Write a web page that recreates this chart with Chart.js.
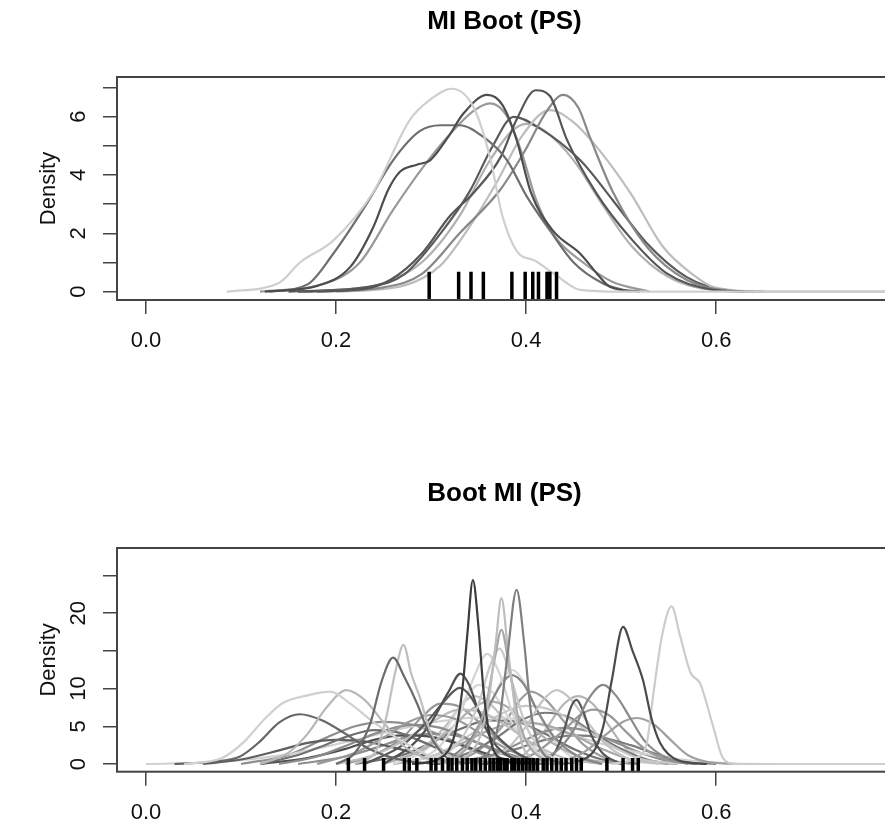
<!DOCTYPE html>
<html>
<head>
<meta charset="utf-8">
<script src="https://cdn.jsdelivr.net/npm/chart.js@4.4.1/dist/chart.umd.min.js"></script>
<style>
  html, body { margin: 0; padding: 0; background: #fff; overflow: hidden; width: 885px; height: 829px; }
  canvas { position: absolute; left: 0; }
  #miBoot { top: 0; }
  #bootMi { top: 415px; }
</style>
</head>
<body>
<canvas id="miBoot" width="896" height="415"></canvas>
<canvas id="bootMi" width="896" height="414"></canvas>
<script>
// ticks
const xTickValues = [0.0, 0.2, 0.4, 0.6];
const miBootYTicks = [0, 1, 2, 3, 4, 5, 6, 7];
const miBootYLabels = [0, 2, 4, 6];
const bootMiYTicks = [0, 5, 10, 15, 20, 25];
const bootMiYLabels = [0, 5, 10, 20];

// MI Boot (PS): one density per imputation as [x, density]
const miBoot1 = [[0.085,0],[0.14,0.3],[0.162,1.0],[0.197,1.75],[0.239,3.4],[0.278,5.9],[0.30,6.6],[0.322,6.95],[0.345,6.3],[0.362,4.6],[0.375,2.6],[0.39,1.4],[0.41,1.05],[0.43,0.6],[0.457,0.06],[0.50,0],[0.79,0]];
const miBoot2 = [[0.125,0],[0.18,0.2],[0.215,0.85],[0.239,2.2],[0.255,3.5],[0.267,4.1],[0.285,4.35],[0.299,4.5],[0.318,5.3],[0.334,6.1],[0.359,6.74],[0.375,6.4],[0.39,5.2],[0.405,3.4],[0.428,2.1],[0.457,1.3],[0.475,0.6],[0.488,0.17],[0.52,0]];
const miBoot3 = [[0.13,0],[0.17,0.25],[0.197,1.3],[0.232,3.0],[0.26,4.5],[0.288,5.5],[0.31,5.7],[0.33,5.7],[0.355,5.3],[0.38,4.5],[0.40,3.3],[0.425,2.1],[0.45,1.0],[0.48,0.3],[0.51,0]];
const miBoot4 = [[0.16,0],[0.23,0.1],[0.257,0.4],[0.29,1.3],[0.32,2.6],[0.345,3.4],[0.373,4.6],[0.39,5.9],[0.41,6.9],[0.425,6.7],[0.443,5.2],[0.474,3.37],[0.509,1.87],[0.548,0.63],[0.597,0.06],[0.63,0]];
const miBoot5 = [[0.18,0],[0.25,0.15],[0.29,0.6],[0.33,2.0],[0.373,3.5],[0.40,4.9],[0.42,6.1],[0.439,6.74],[0.455,6.3],[0.467,5.3],[0.492,3.37],[0.527,1.54],[0.569,0.4],[0.611,0.05],[0.65,0]];
const miBoot6 = [[0.2,0],[0.27,0.2],[0.31,0.9],[0.34,2.2],[0.37,3.8],[0.395,5.3],[0.425,6.22],[0.45,5.8],[0.474,4.97],[0.51,3.37],[0.544,1.54],[0.575,0.6],[0.597,0.16],[0.66,0],[0.79,0]];
const miBoot7 = [[0.15,0],[0.24,0.2],[0.272,0.6],[0.31,2.0],[0.34,3.4],[0.365,5.0],[0.387,5.99],[0.414,5.6],[0.457,4.5],[0.492,3.1],[0.527,1.66],[0.569,0.5],[0.61,0.05],[0.64,0]];
const miBoot8 = [[0.12,0],[0.19,0.3],[0.225,1.0],[0.26,2.8],[0.29,4.2],[0.32,5.4],[0.345,6.2],[0.362,6.45],[0.38,6.0],[0.395,4.8],[0.41,3.2],[0.43,1.9],[0.46,1.0],[0.49,0.35],[0.53,0]];
const miBoot9 = [[0.17,0],[0.25,0.3],[0.29,1.0],[0.33,2.6],[0.36,4.4],[0.385,5.5],[0.40,5.75],[0.42,5.5],[0.45,4.5],[0.48,3.0],[0.51,1.6],[0.55,0.5],[0.6,0.05],[0.64,0]];
const miBootRug = [0.298, 0.329, 0.342, 0.355, 0.385, 0.399, 0.407, 0.413, 0.422, 0.425, 0.432];

// Boot MI (PS)
const bootMi1 = [[0.28,0],[0.31,0.8],[0.325,4],[0.333,10],[0.338,17],[0.344,24.4],[0.35,18],[0.355,10],[0.362,3.5],[0.372,0.8],[0.40,0]];
const bootMi2 = [[0.33,0],[0.36,1.5],[0.372,6],[0.38,14],[0.39,23.1],[0.398,16],[0.405,7],[0.415,2],[0.44,0]];
const bootMi3 = [[0.31,0],[0.345,2],[0.36,8],[0.368,16],[0.374,22],[0.381,15],[0.39,6],[0.40,1.5],[0.43,0]];
const bootMi4 = [[0.30,0],[0.34,2.5],[0.358,8],[0.367,14],[0.374,17.8],[0.382,13],[0.392,6],[0.405,2],[0.44,0]];
const bootMi5 = [[0.29,0],[0.33,3],[0.35,8],[0.362,13],[0.372,15.3],[0.385,11],[0.40,5],[0.42,1.5],[0.46,0]];
const bootMi6 = [[0.44,0],[0.47,1.5],[0.481,4.9],[0.49,11],[0.502,18.2],[0.512,15],[0.523,11.1],[0.532,6],[0.541,2.8],[0.56,0.5],[0.59,0]];
const bootMi7 = [[0.49,0],[0.515,0.8],[0.527,2.8],[0.534,9.4],[0.543,17],[0.553,20.9],[0.562,17],[0.573,12.1],[0.583,10.7],[0.597,4.9],[0.607,0.8],[0.62,0],[0.66,0]];
const bootMi8 = [[0.20,0],[0.22,1.5],[0.236,5.4],[0.248,11],[0.26,14.1],[0.272,11.5],[0.285,8.1],[0.298,4],[0.315,1],[0.34,0]];
const bootMi9 = [[0.22,0],[0.243,2],[0.253,6.3],[0.262,12],[0.271,15.8],[0.279,12],[0.288,8.9],[0.30,4],[0.32,1],[0.35,0]];
const bootMi10 = [[0.04,0],[0.08,0.8],[0.102,2.8],[0.125,6],[0.144,8.1],[0.17,9.1],[0.194,9.6],[0.215,8],[0.24,5.5],[0.27,3],[0.30,1],[0.34,0]];
const bootMi11 = [[0.12,0],[0.15,1.5],[0.17,4],[0.19,7.5],[0.211,9.8],[0.23,8.5],[0.25,5.5],[0.27,2.5],[0.30,0.5],[0.33,0]];
const bootMi12 = [[0.03,0],[0.07,0.3],[0.099,1.0],[0.12,3],[0.14,5.5],[0.162,6.6],[0.185,5.8],[0.21,4],[0.235,2],[0.27,0.5],[0.31,0]];
const bootMi13 = [[0.25,0],[0.28,2.5],[0.30,5.5],[0.318,9.5],[0.331,12],[0.34,10.5],[0.35,7],[0.365,3],[0.385,0.8],[0.41,0]];
const bootMi14 = [[0.23,0],[0.27,2.5],[0.295,5.5],[0.315,8.5],[0.33,10.1],[0.34,9.2],[0.355,6],[0.375,3],[0.40,0.8],[0.43,0]];
const bootMi15 = [[0.28,0],[0.31,2.5],[0.33,6.5],[0.345,11.5],[0.359,14.6],[0.372,12],[0.385,7],[0.40,3],[0.42,0.8],[0.45,0]];
const bootMi16 = [[0.40,0],[0.43,1.5],[0.45,4.5],[0.465,8.5],[0.481,10.5],[0.495,9],[0.51,6],[0.525,3],[0.545,1],[0.57,0]];
const bootMi17 = [[0.41,0],[0.43,1.5],[0.44,4.5],[0.447,7.5],[0.453,8.5],[0.46,7],[0.468,4],[0.48,1.5],[0.50,0]];
const bootMi18 = [[0.35,0],[0.38,2],[0.40,5],[0.418,8.5],[0.432,9.8],[0.447,8.6],[0.465,5.5],[0.485,2.5],[0.51,0.6],[0.54,0]];
const bootMi19 = [[0.38,0],[0.41,1.5],[0.44,4.5],[0.458,6.6],[0.471,7.2],[0.488,6.4],[0.505,4.3],[0.525,2],[0.55,0.5],[0.58,0]];
const bootMi20 = [[0.43,0],[0.46,1.5],[0.485,4],[0.502,5.6],[0.517,6.1],[0.535,5.2],[0.552,3.2],[0.57,1.2],[0.59,0.3],[0.62,0]];
const bootMi21 = [[0.31,0],[0.34,3],[0.36,7.5],[0.375,10.8],[0.385,11.8],[0.398,10.5],[0.41,7.5],[0.43,3.5],[0.455,1],[0.48,0]];
const bootMi22 = [[0.18,0],[0.22,1.5],[0.25,3.5],[0.275,5.5],[0.30,6.5],[0.325,6],[0.35,4.2],[0.38,2],[0.41,0.5],[0.44,0]];
const bootMi23 = [[0.20,0],[0.24,1.2],[0.27,3],[0.30,5.5],[0.33,7.2],[0.355,6.8],[0.38,5],[0.41,2.5],[0.44,0.8],[0.48,0]];
const bootMi24 = [[0.12,0],[0.16,1.2],[0.19,2.6],[0.215,3.8],[0.24,4.5],[0.265,4.2],[0.29,3],[0.32,1.4],[0.35,0.4],[0.38,0]];
const bootMi25 = [[0.14,0],[0.18,1],[0.21,2.4],[0.245,4.2],[0.28,5.2],[0.31,4.8],[0.34,3.3],[0.37,1.6],[0.40,0.4],[0.43,0]];
const bootMi26 = [[0.27,0],[0.31,1.5],[0.34,3.8],[0.37,6.4],[0.40,7.7],[0.43,7],[0.46,4.8],[0.49,2.4],[0.52,0.7],[0.56,0]];
const bootMi27 = [[0.30,0],[0.34,1.5],[0.37,3.6],[0.395,5.8],[0.42,6.8],[0.445,6.2],[0.47,4.2],[0.50,2],[0.53,0.5],[0.56,0]];
const bootMi28 = [[0.25,0],[0.29,1.8],[0.32,4.6],[0.34,7],[0.36,8.3],[0.38,7.6],[0.40,5.4],[0.43,2.6],[0.46,0.8],[0.50,0]];
const bootMi29 = [[0.26,0],[0.29,1.5],[0.315,4.5],[0.335,8.5],[0.35,10.5],[0.365,9.5],[0.38,6.5],[0.40,3],[0.43,0.8],[0.46,0]];
const bootMi30 = [[0.06,0],[0.10,0.6],[0.14,1.8],[0.17,2.8],[0.20,3.2],[0.23,3],[0.26,2.2],[0.29,1.2],[0.32,0.4],[0.36,0]];
const bootMi31 = [[0.26,0],[0.30,1],[0.33,2.6],[0.36,4.4],[0.39,5.5],[0.42,5.2],[0.45,3.8],[0.48,2],[0.51,0.6],[0.55,0]];
const bootMi32 = [[0.0,0],[0.08,0.3],[0.15,1.3],[0.22,3.2],[0.28,5],[0.33,6],[0.37,6.2],[0.41,5.4],[0.45,3.8],[0.50,2],[0.55,0.8],[0.60,0.2],[0.653,0],[0.79,0]];
const bootMi33 = [[0.32,0],[0.36,1],[0.39,2.6],[0.415,4.1],[0.44,4.8],[0.465,4.4],[0.49,3.1],[0.52,1.5],[0.55,0.4],[0.58,0]];
const bootMi34 = [[0.30,0],[0.35,0.8],[0.39,2],[0.42,3.2],[0.45,3.8],[0.48,3.5],[0.51,2.5],[0.54,1.2],[0.57,0.3],[0.60,0]];
const bootMi35 = [[0.12,0],[0.17,0.8],[0.21,2],[0.24,3.2],[0.27,3.8],[0.30,3.6],[0.33,2.6],[0.36,1.3],[0.39,0.3],[0.42,0]];
const bootMi36 = [[0.10,0],[0.15,1.2],[0.19,3.5],[0.22,5],[0.25,5.6],[0.28,5.2],[0.31,3.8],[0.34,2],[0.37,0.6],[0.40,0]];
const bootMi37 = [[0.21,0],[0.24,1.2],[0.27,3.5],[0.29,6.2],[0.31,8],[0.33,7.6],[0.35,5.6],[0.375,2.8],[0.40,0.8],[0.43,0]];
const bootMi38 = [[0.25,0],[0.29,2],[0.315,5],[0.333,8],[0.345,9],[0.36,8.2],[0.38,5.5],[0.405,2.5],[0.43,0.6],[0.46,0]];
const bootMi39 = [[0.32,0],[0.35,1.8],[0.375,5],[0.393,8.4],[0.405,9.6],[0.42,8.6],[0.44,5.6],[0.46,2.6],[0.485,0.7],[0.51,0]];
const bootMi40 = [[0.31,0],[0.34,2.5],[0.36,7],[0.374,11],[0.385,12.5],[0.397,11],[0.41,7.5],[0.43,3],[0.45,0.8],[0.48,0]];
const bootMi41 = [[0.22,0],[0.27,1.2],[0.30,2.8],[0.33,4.6],[0.36,5.8],[0.39,5.6],[0.42,4],[0.45,2],[0.48,0.6],[0.52,0]];
const bootMi42 = [[0.38,0],[0.40,1.5],[0.42,4.5],[0.44,8],[0.455,9],[0.47,8],[0.485,5.5],[0.50,2.8],[0.52,0.8],[0.55,0]];
const bootMi43 = [[0.16,0],[0.21,1],[0.25,2.5],[0.275,3.6],[0.30,4],[0.325,3.8],[0.35,2.8],[0.38,1.4],[0.41,0.4],[0.44,0]];
const bootMiRug = [0.213, 0.230, 0.250, 0.272, 0.277, 0.285, 0.300, 0.305, 0.312, 0.318, 0.322, 0.327, 0.333, 0.338,
  0.343, 0.347, 0.352, 0.357, 0.362, 0.366, 0.370, 0.373, 0.377, 0.380, 0.385, 0.388, 0.392, 0.396, 0.400, 0.404,
  0.408, 0.412, 0.418, 0.422, 0.427, 0.432, 0.437, 0.442, 0.448, 0.453, 0.458, 0.485, 0.502, 0.512, 0.518];

const miBootCurves = [miBoot1, miBoot2, miBoot3, miBoot4, miBoot5, miBoot6, miBoot7, miBoot8, miBoot9];
const bootMiCurves = [bootMi1, bootMi2, bootMi3, bootMi4, bootMi5, bootMi6, bootMi7, bootMi8, bootMi9, bootMi10,
  bootMi11, bootMi12, bootMi13, bootMi14, bootMi15, bootMi16, bootMi17, bootMi18, bootMi19, bootMi20,
  bootMi21, bootMi22, bootMi23, bootMi24, bootMi25, bootMi26, bootMi27, bootMi28, bootMi29, bootMi30,
  bootMi31, bootMi32, bootMi33, bootMi34, bootMi35, bootMi36, bootMi37, bootMi38, bootMi39, bootMi40,
  bootMi41, bootMi42, bootMi43];

// line greys
const miBootGreys = ["#cfcfcf", "#4d4d4d", "#6e6e6e", "#555555", "#888888", "#bdbdbd", "#5a5a5a", "#999999", "#b0b0b0"];
const bootMiGreys = ["#3c3c3c", "#7f7f7f", "#bdbdbd", "#a6a6a6", "#c9c9c9", "#4a4a4a", "#cccccc", "#6b6b6b", "#bfbfbf", "#d0d0d0",
  "#b8b8b8", "#666666", "#505050", "#575757", "#d4d4d4", "#8a8a8a", "#555555", "#c4c4c4", "#999999", "#a0a0a0",
  "#858585", "#9a9a9a", "#bdbdbd", "#6f6f6f", "#8c8c8c", "#c8c8c8", "#7a7a7a", "#b0b0b0", "#d8d8d8", "#5e5e5e",
  "#a8a8a8", "#d0d0d0", "#909090", "#7d7d7d", "#4f4f4f", "#8f8f8f", "#999999", "#c0c0c0", "#9e9e9e", "#d6d6d6",
  "#727272", "#b4b4b4", "#8e8e8e"];

const FONT = "'Liberation Sans', Arial, sans-serif";

// box round the plot region
const marco = {
  id: "marco",
  afterDraw(chart) {
    const a = chart.chartArea;
    const ctx = chart.ctx;
    ctx.save();
    ctx.strokeStyle = "#444";
    ctx.lineWidth = 2;
    ctx.strokeRect(a.left, a.top, a.right - a.left, a.bottom - a.top);
    ctx.restore();
  }
};

function generarGrafico(id, cfg) {
  const datasets = cfg.curves.map((c, i) => ({
    data: c.map(p => ({ x: p[0], y: p[1] })),
    borderColor: cfg.greys[i],
    borderWidth: 2.2,
    pointRadius: 0,
    cubicInterpolationMode: "monotone",
    order: 1
  }));
  datasets.push({
    data: cfg.rug.map(v => ({ x: v, y: cfg.rugY })),
    showLine: false,
    pointStyle: "line",
    rotation: 90,
    pointRadius: cfg.rugLen,
    pointBorderWidth: cfg.rugWidth,
    pointBorderColor: "#000",
    order: 0
  });

  const tickGrid = { display: true, drawOnChartArea: false, drawTicks: true, tickLength: 14, color: "#444", lineWidth: 1.5 };

  new Chart(document.getElementById(id), {
    type: "line",
    data: { datasets },
    plugins: [marco],
    options: {
      responsive: false,
      animation: false,
      events: [],
      layout: { autoPadding: false, padding: { left: 0, right: 4, top: 0, bottom: 0 } },
      plugins: {
        legend: { display: false },
        tooltip: { enabled: false },
        title: {
          display: true,
          text: cfg.titulo,
          fullSize: false,
          color: "#000",
          font: { family: FONT, size: 26, weight: "bold", lineHeight: 1.2 },
          padding: { top: cfg.titleTop, bottom: cfg.titleBottom }
        }
      },
      scales: {
        x: {
          type: "linear",
          min: -0.0305,
          max: 0.785,
          afterBuildTicks: s => { s.ticks = xTickValues.map(v => ({ value: v })); },
          afterFit: s => { s.height = cfg.xHeight; },
          grid: tickGrid,
          border: { display: false },
          ticks: {
            autoSkip: false,
            maxRotation: 0,
            padding: 14,
            color: "#111",
            font: { family: FONT, size: 22 },
            callback: v => v.toFixed(1)
          }
        },
        y: {
          type: "linear",
          min: cfg.yMin,
          max: cfg.yMax,
          afterBuildTicks: s => { s.ticks = cfg.yTicks.map(v => ({ value: v })); },
          afterFit: s => { s.width = 117; },
          grid: tickGrid,
          border: { display: false },
          title: {
            display: true,
            text: "Density",
            color: "#111",
            font: { family: FONT, size: 22, lineHeight: 1.2 },
            padding: { top: 36, bottom: 0 }
          },
          ticks: {
            autoSkip: false,
            minRotation: 90,
            maxRotation: 90,
            crossAlign: "center",
            padding: cfg.yPad,
            color: "#111",
            font: { family: FONT, size: 22 },
            callback: v => cfg.yLabels.includes(v) ? String(v) : ""
          }
        }
      }
    }
  });
}

generarGrafico("miBoot", {
  titulo: "MI Boot (PS)",
  curves: miBootCurves, greys: miBootGreys, rug: miBootRug,
  rugY: 0.17, rugLen: 15, rugWidth: 3.5,
  yMin: -0.284, yMax: 7.353, yTicks: miBootYTicks, yLabels: miBootYLabels,
  yPad: 18, xHeight: 115, titleTop: 6.5, titleBottom: 39.3
});

generarGrafico("bootMi", {
  titulo: "Boot MI (PS)",
  curves: bootMiCurves, greys: bootMiGreys, rug: bootMiRug,
  rugY: -0.2, rugLen: 7.5, rugWidth: 3.5,
  yMin: -1.02, yMax: 28.65, yTicks: bootMiYTicks, yLabels: bootMiYLabels,
  yPad: 12, xHeight: 57.3, titleTop: 63, titleBottom: 38.8
});
</script>
</body>
</html>
